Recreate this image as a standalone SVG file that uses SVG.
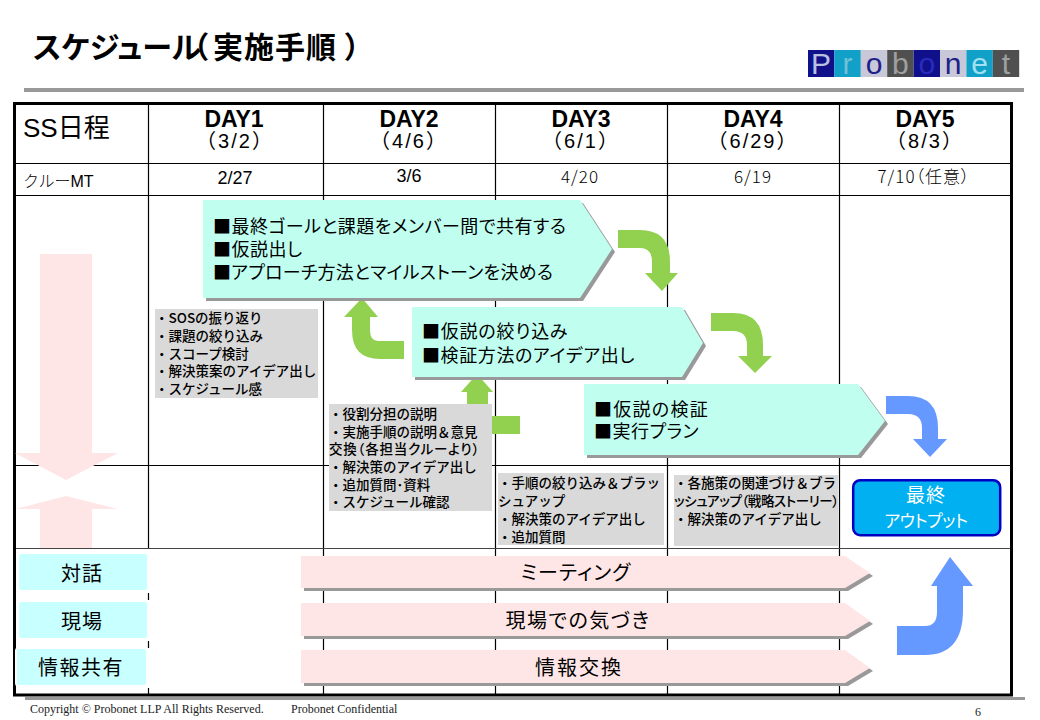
<svg xmlns="http://www.w3.org/2000/svg" width="1040" height="720" viewBox="0 0 1040 720">
<style>
text{font-family:"Liberation Sans","Noto Sans CJK JP",sans-serif;fill:#000;font-feature-settings:"palt"}
.g{stroke:#000;stroke-width:1.2;fill:none}
.day{font-size:23px;font-weight:700;text-anchor:middle}
.dat{font-size:20px;text-anchor:middle;font-feature-settings:"palt" 0;letter-spacing:2px}
.mt{font-size:18px;text-anchor:middle}
.thin{font-family:"Noto Sans CJK JP",sans-serif;font-size:17px;font-weight:300;text-anchor:middle;letter-spacing:1px}
.t{font-family:"Noto Sans CJK JP",sans-serif;font-size:18px;letter-spacing:.5px}
.s{font-family:"Noto Sans CJK JP",sans-serif;font-size:13.5px;font-weight:500;font-feature-settings:"palt" 0}
.c{font-family:"Noto Sans CJK JP",sans-serif;font-size:20px;text-anchor:middle;letter-spacing:1px}
.gb{fill:#d9d9d9}.sh{fill:#999}.mint{fill:#c0fff0}.pink{fill:#ffe6e6}
.cy{fill:#c8ffff;stroke:#fff;stroke-width:2}
.gr{fill:#92d050}.bl{fill:#6699ff}
.lg{font-size:30px;text-anchor:middle}
.f{font-family:"Liberation Serif",serif;font-size:12px;fill:#222}
</style>
<rect width="1040" height="720" fill="#fff"/>
<g id="title">
<text x="33" y="58" style="font-family:'Noto Sans CJK JP',sans-serif;font-size:30px;font-weight:700">スケジュール<tspan x="193">（</tspan><tspan x="213" letter-spacing="1">実施手順</tspan><tspan x="345">）</tspan></text>
</g>
<g id="logo">
<rect x="808" y="50" width="26.4" height="27" fill="#10108a"/><rect x="834.4" y="50" width="26.4" height="27" fill="#10a0c8"/><rect x="860.8" y="50" width="26.4" height="27" fill="#c8c8d8"/><rect x="887.2" y="50" width="26.4" height="27" fill="#505050"/><rect x="913.6" y="50" width="26.4" height="27" fill="#10108a"/><rect x="940" y="50" width="26.4" height="27" fill="#c8c8d8"/><rect x="966.4" y="50" width="26.4" height="27" fill="#10a0c8"/><rect x="992.8" y="50" width="26.4" height="27" fill="#505050"/>
<text class="lg" x="821" y="74" style="fill:#b8c0e0">P</text><text class="lg" x="847.6" y="74" style="fill:#70c0d8">r</text><text class="lg" x="874" y="74" style="fill:#20208a">o</text><text class="lg" x="900.4" y="74" style="fill:#a0a0a0">b</text><text class="lg" x="926.8" y="74" style="fill:#2a2ac0">o</text><text class="lg" x="953.2" y="74" style="fill:#20208a">n</text><text class="lg" x="979.6" y="74" style="fill:#a0e0f0">e</text><text class="lg" x="1006" y="74" style="fill:#a0a0a0">t</text>
</g>
<rect x="24" y="88" width="1000" height="4" fill="#999"/>
<rect x="25" y="697" width="1000" height="3" fill="#999"/>
<g id="table">
<path class="g" d="M148.5 103V548M148.5 593V600M148.5 641V648M148.5 688V695M323.5 103V695M495.5 103V695M667.5 103V695M839.5 103V695M13 163.5H1012M13 195.5H1012M13 465.5H1012"/>
<path d="M13 548.5H1012" stroke="#444" stroke-width="1.2" fill="none"/>
<rect x="14.5" y="103.5" width="997" height="591.5" fill="none" stroke="#000" stroke-width="3"/>
<text x="23" y="137" style="font-size:26px">SS日程</text>
<text class="day" x="234" y="127">DAY1</text><text class="dat" x="235" y="148">（3/2）</text>
<text class="day" x="409" y="127">DAY2</text><text class="dat" x="409" y="148">（4/6）</text>
<text class="day" x="581" y="127">DAY3</text><text class="dat" x="581" y="148">（6/1）</text>
<text class="day" x="753" y="127">DAY4</text><text class="dat" x="753" y="148">（6/29）</text>
<text class="day" x="925" y="127">DAY5</text><text class="dat" x="925" y="148">（8/3）</text>
<text x="23" y="187" style="font-size:16px;font-weight:300;font-feature-settings:'palt' 0">クルーMT</text>
<text class="mt" x="235" y="184">2/27</text><text class="mt" x="409" y="182">3/6</text>
<text class="thin" x="580" y="183">4/20</text><text class="thin" x="753" y="183">6/19</text><text class="thin" x="924" y="183">7/10（任意）</text>
</g>
<g id="connectors">
<path id="side-down" class="pink" d="M40 254H92V453H118L66 480L15 453H40Z"/>
<path id="side-up" class="pink" d="M66 496L118 509H92V548H40V509H16Z"/>
<path class="gr" d="M618 230H640Q670 230 670 262V273H678L662 291L645 273H652V262Q652 248 640 248H618Z"/>
<path class="gr" d="M711 313H733Q763 313 763 345V356H772L755 373L738 356H747V345Q747 331 733 331H711Z"/>
<path class="bl" d="M886 396H908Q938 396 938 428V439H947L930 457L913 439H922V428Q922 414 908 414H886Z"/>
<path class="gr" d="M404 341H378Q370 341 370 330V317H378L362 298L344 317H352V330Q352 359 380 359H404Z"/>
<path class="gr" d="M520 416H488V392H493L477 374L461 392H467V434H520Z"/>
<path class="bl" d="M897 626H925Q937 626 937 612V586H931L950 557L973 586H963V610Q963 655 925 655H897Z"/>
</g>
<g id="chevron-1">
<path class="sh" transform="translate(3 3)" d="M203 200H580L612 249L580 298H203Z"/><path class="mint" d="M203 200H580L612 249L580 298H203Z"/>
<text class="t" x="213" y="233">■最終ゴールと課題をメンバー間で共有する</text><text class="t" x="213" y="256">■仮説出し</text><text class="t" x="213" y="279" style="letter-spacing:.25px">■アプローチ方法とマイルストーンを決める</text>
</g>
<g id="chevron-2">
<path class="sh" transform="translate(3 3)" d="M412 307H682L703 343L682 377H412Z"/><path class="mint" d="M412 307H682L703 343L682 377H412Z"/>
<text class="t" x="422" y="338" style="letter-spacing:.8px">■仮説の絞り込み</text><text class="t" x="422" y="362" style="letter-spacing:.6px">■検証方法のアイデア出し</text>
</g>
<g id="chevron-3">
<path class="sh" transform="translate(3 3)" d="M584 384H858L885 421L858 455H584Z"/><path class="mint" d="M584 384H858L885 421L858 455H584Z"/>
<text class="t" x="594" y="416" style="letter-spacing:1.3px">■仮説の検証</text><text class="t" x="594" y="438">■実行プラン</text>
</g>
<g id="note-day1">
<rect class="gb" x="155" y="309" width="163" height="89"/>
<text class="s" x="155" y="323">・SOSの振り返り</text><text class="s" x="155" y="341">・課題の絞り込み</text><text class="s" x="155" y="359">・スコープ検討</text><text class="s" x="155" y="376">・解決策案のアイデア出し</text><text class="s" x="155" y="394">・スケジュール感</text>
</g>
<g id="note-day2">
<rect class="gb" x="329" y="404" width="163" height="107"/>
<text class="s" x="329" y="419">・役割分担の説明</text><text class="s" x="329" y="437">・実施手順の説明＆意見</text><text class="s" x="329" y="454" style="font-feature-settings:'palt';letter-spacing:.8px">交換（各担当クルーより）</text><text class="s" x="329" y="472">・解決策のアイデア出し</text><text class="s" x="329" y="490">・追加質問･資料</text><text class="s" x="329" y="507">・スケジュール確認</text>
</g>
<g id="note-day3">
<rect class="gb" x="498" y="473" width="166" height="72"/>
<text class="s" x="498" y="488">・手順の絞り込み＆ブラッ</text><text class="s" x="498" y="506">シュアップ</text><text class="s" x="498" y="524">・解決策のアイデア出し</text><text class="s" x="498" y="542">・追加質問</text>
</g>
<g id="note-day4">
<rect class="gb" x="674" y="475" width="164" height="71"/>
<text class="s" x="674" y="488">・各施策の関連づけ＆ブラ</text><text class="s" x="674" y="506" style="font-feature-settings:'palt';letter-spacing:-.4px">ッシュアップ（戦略ストーリー）</text><text class="s" x="674" y="524">・解決策のアイデア出し</text>
</g>
<g id="output">
<rect x="853.2" y="480.2" width="147" height="55" rx="7" fill="#00b0f0" stroke="#0000c0" stroke-width="2.5"/>
<text class="c" x="926" y="502" style="font-size:19px;fill:#fff">最終</text><text class="c" x="926" y="527" style="font-size:17px;fill:#fff;letter-spacing:-.5px">アウトプット</text>
</g>
<g id="row-taiwa"><rect class="cy" x="18" y="553" width="130" height="38" rx="3"/><text class="c" x="82" y="581">対話</text></g>
<g id="row-genba"><rect class="cy" x="18" y="601" width="130" height="38" rx="3"/><text class="c" x="82" y="629">現場</text></g>
<g id="row-joho"><rect class="cy" x="16" y="648" width="131" height="38" rx="3"/><text class="c" x="81" y="675" style="letter-spacing:1.5px">情報共有</text></g>
<g id="bar-meeting">
<path class="sh" transform="translate(3 3)" d="M301 556H845L870 573L845 588H301Z"/><path class="pink" d="M301 556H845L870 573L845 588H301Z"/>
<text class="c" x="576" y="580">ミーティング</text>
</g>
<g id="bar-field">
<path class="sh" transform="translate(3 3)" d="M301 603H845L870 621L845 636H301Z"/><path class="pink" d="M301 603H845L870 621L845 636H301Z"/>
<text class="c" x="578" y="628" style="letter-spacing:1.5px">現場での気づき</text>
</g>
<g id="bar-info">
<path class="sh" transform="translate(3 3)" d="M301 650H845L870 668L845 683H301Z"/><path class="pink" d="M301 650H845L870 668L845 683H301Z"/>
<text class="c" x="579" y="675" style="letter-spacing:2px">情報交換</text>
</g>
<g id="footer">
<text class="f" x="30" y="713">Copyright © Probonet LLP All Rights Reserved.</text>
<text class="f" x="291" y="713">Probonet Confidential</text>
<text class="f" x="975" y="716">6</text>
</g>
</svg>
